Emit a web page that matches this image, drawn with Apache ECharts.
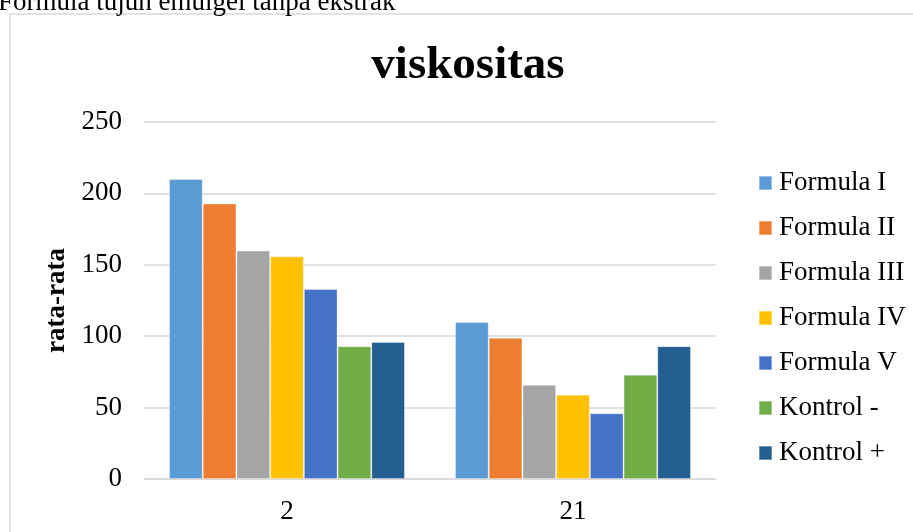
<!DOCTYPE html>
<html>
<head>
<meta charset="utf-8">
<script src="https://cdn.jsdelivr.net/npm/echarts@6/dist/echarts.min.js"></script>
<style>
  html, body { margin: 0; padding: 0; background: #fff; }
  #chart { width: 913px; height: 532px; }
</style>
</head>
<body>
<div id="chart"></div>
<script>
// Viscosity (mean) of each emulgel formula on day 2 and day 21
const categories = ['2', '21'];
const seriesNames = ['Formula I', 'Formula II', 'Formula III', 'Formula IV', 'Formula V', 'Kontrol -', 'Kontrol +'];
const formulaI   = [210, 110];
const formulaII  = [193, 99];
const formulaIII = [160, 66];
const formulaIV  = [156, 59];
const formulaV   = [133, 46];
const kontrolMin = [93, 73];
const kontrolPlus = [96, 93];
const yTicks = { min: 0, max: 250, interval: 50 };

const seriesValues = [formulaI, formulaII, formulaIII, formulaIV, formulaV, kontrolMin, kontrolPlus];
const colors = ['#5B9BD5', '#ED7D31', '#A5A5A5', '#FFC000', '#4472C4', '#70AD47', '#255E91'];
const FONT = '"Liberation Serif", "Times New Roman", serif';

const chart = echarts.init(document.getElementById('chart'), null, { renderer: 'canvas' });

chart.setOption({
  animation: false,
  color: colors,
  textStyle: { fontFamily: FONT, color: '#000' },
  graphic: [
    {
      type: 'rect',
      shape: { x: 10, y: 14, width: 1000, height: 600 },
      style: { fill: 'none', stroke: '#d9d9d9', lineWidth: 1.5 },
      silent: true
    },
    {
      type: 'text',
      left: -2,
      top: -11,
      style: {
        text: 'Formula tujuh emulgel tanpa ekstrak',
        fontFamily: FONT,
        fontSize: 27,
        fill: '#000'
      },
      silent: true
    }
  ],
  title: {
    text: 'viskositas',
    left: 463,
    textAlign: 'center',
    top: 37,
    textStyle: { fontFamily: FONT, fontSize: 47, fontWeight: 'bold', color: '#000' }
  },
  legend: {
    orient: 'vertical',
    left: 753,
    top: 163,
    itemWidth: 13,
    itemHeight: 14,
    itemGap: 15,
    icon: 'rect',
    data: seriesNames,
    textStyle: { fontFamily: FONT, fontSize: 27, color: '#000', lineHeight: 30, padding: [0, 0, 0, 2] }
  },
  grid: { left: 144, right: 197, top: 122, bottom: 53, containLabel: false },
  xAxis: {
    type: 'category',
    data: categories,
    axisLine: { lineStyle: { color: '#d9d9d9', width: 1.5 } },
    axisTick: { show: false },
    axisLabel: { fontFamily: FONT, fontSize: 27, color: '#000', margin: 19 }
  },
  yAxis: {
    type: 'value',
    min: yTicks.min,
    max: yTicks.max,
    interval: yTicks.interval,
    name: 'rata-rata',
    nameLocation: 'middle',
    nameGap: 53,
    nameTextStyle: { fontFamily: FONT, fontSize: 27, fontWeight: 'bold', color: '#000' },
    axisLine: { show: false },
    axisTick: { show: false },
    splitLine: { lineStyle: { color: '#d9d9d9', width: 1.5 } },
    axisLabel: { fontFamily: FONT, fontSize: 27, color: '#000', margin: 22 }
  },
  series: seriesNames.map((name, i) => ({
    name: name,
    type: 'bar',
    data: seriesValues[i],
    barGap: '0%',
    barCategoryGap: '17.5%',
    itemStyle: { borderColor: 'rgba(255,255,255,0.35)', borderWidth: 1 }
  }))
});
</script>
</body>
</html>
